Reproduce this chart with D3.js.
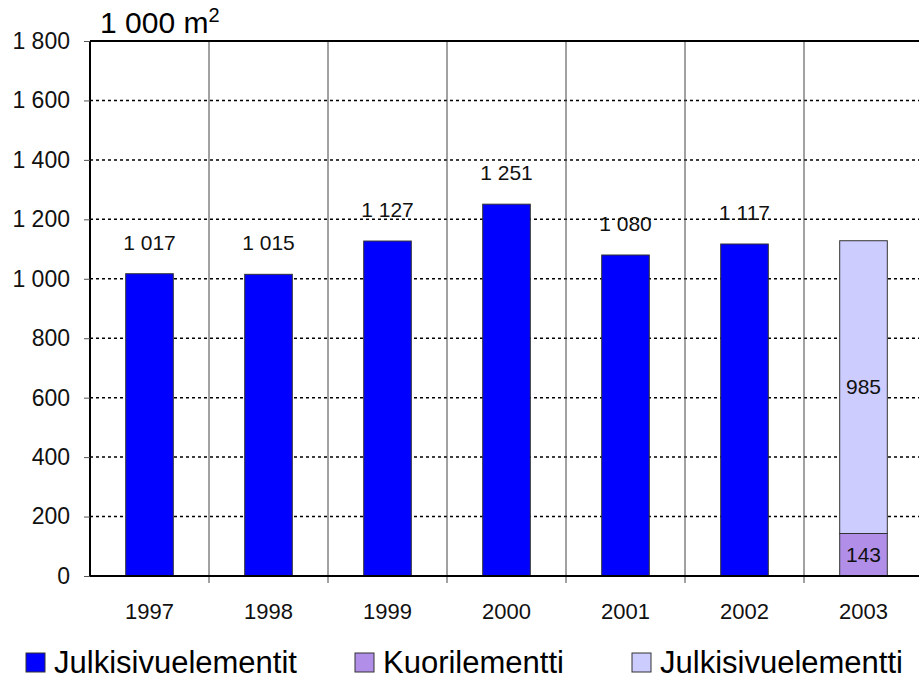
<!DOCTYPE html>
<html>
<head>
<meta charset="utf-8">
<script src="https://cdn.jsdelivr.net/npm/d3@7"></script>
<style>
  body { margin: 0; background: #fff; }
  svg { font-family: "Liberation Sans", Arial, sans-serif; }
</style>
</head>
<body>
<svg class="chart"></svg>
<script>
// chart dimensions
var width = 919;
var height = 680;
var margin = {top: 41, right: -4, bottom: 104, left: 90};
var w = width - margin.left - margin.right;
var h = height - margin.top - margin.bottom;

// data
var years = ["1997", "1998", "1999", "2000", "2001", "2002", "2003"];
var julkisivuelementit = [1017, 1015, 1127, 1251, 1080, 1117, 0];
var kuorielementti = [0, 0, 0, 0, 0, 0, 143];
var julkisivuelementti = [0, 0, 0, 0, 0, 0, 985];
var yTicks = [0, 200, 400, 600, 800, 1000, 1200, 1400, 1600, 1800];
var seriesNames = ["Julkisivuelementit", "Kuorilementti", "Julkisivuelementti"];
var seriesColors = ["#0000ff", "#b18fe9", "#ccccff"];

var fmt = function(v) { return d3.format(",")(v).replace(/,/g, " "); };

var svg = d3.select(".chart")
    .attr("width", width)
    .attr("height", height);

var chart = svg.append("g")
    .attr("transform", "translate(" + margin.left + "," + margin.top + ")");

var x = d3.scaleBand()
    .domain(years)
    .range([0, w])
    .padding(0);

var y = d3.scaleLinear()
    .domain([0, 1800])
    .range([h, 0]);

var barW = x.bandwidth() * 0.4;

// horizontal dotted grid
chart.selectAll(".hgrid")
    .data(yTicks.filter(function(t) { return t > 0 && t < 1800; }))
    .enter().append("line")
    .attr("x1", 0).attr("x2", w)
    .attr("y1", function(d) { return y(d); })
    .attr("y2", function(d) { return y(d); })
    .style("stroke", "#000")
    .style("stroke-width", 1.5)
    .style("stroke-dasharray", "3,3");

// vertical grid lines between categories
chart.selectAll(".vgrid")
    .data(years.slice(1))
    .enter().append("line")
    .attr("x1", function(d) { return x(d); })
    .attr("x2", function(d) { return x(d); })
    .attr("y1", 0).attr("y2", h + 7)
    .style("stroke", "#444")
    .style("stroke-width", 1);

// top border
chart.append("line")
    .attr("x1", 0).attr("x2", w)
    .attr("y1", 0).attr("y2", 0)
    .style("stroke", "#000")
    .style("stroke-width", 2);

// stacked series
var rows = years.map(function(yr, i) {
    return {year: yr, a: julkisivuelementit[i], b: kuorielementti[i], c: julkisivuelementti[i]};
});
var stack = d3.stack().keys(["a", "b", "c"]);
var layers = stack(rows);

layers.forEach(function(layer, li) {
    chart.selectAll(".bar" + li)
        .data(layer.filter(function(d) { return d[1] > d[0]; }))
        .enter().append("rect")
        .attr("x", function(d) { return x(d.data.year) + (x.bandwidth() - barW) / 2; })
        .attr("y", function(d) { return y(d[1]); })
        .attr("width", barW)
        .attr("height", function(d) { return y(d[0]) - y(d[1]); })
        .style("fill", seriesColors[li])
        .style("stroke", "#333")
        .style("stroke-width", 1);
});

// labels above the single bars
chart.selectAll(".toplabel")
    .data(rows.filter(function(d) { return d.a > 0; }))
    .enter().append("text")
    .attr("x", function(d) { return x(d.year) + x.bandwidth() / 2; })
    .attr("y", function(d) { return y(d.a) - 24; })
    .attr("text-anchor", "middle")
    .style("font-size", "21px")
    .style("fill", "#111")
    .text(function(d) { return fmt(d.a); });

// labels inside the stacked segments
layers.slice(1).forEach(function(layer) {
    chart.selectAll(null)
        .data(layer.filter(function(d) { return d[1] > d[0]; }))
        .enter().append("text")
        .attr("x", function(d) { return x(d.data.year) + x.bandwidth() / 2; })
        .attr("y", function(d) { return y((d[0] + d[1]) / 2); })
        .attr("dy", "0.35em")
        .attr("text-anchor", "middle")
        .style("font-size", "21px")
        .style("fill", "#111")
        .text(function(d) { return fmt(d[1] - d[0]); });
});

// y axis
var yAxis = d3.axisLeft(y)
    .tickValues(yTicks)
    .tickSize(6)
    .tickPadding(14)
    .tickFormat(fmt);

var gy = chart.append("g").call(yAxis);
gy.attr("font-size", null).attr("font-family", null);
gy.select(".domain").style("stroke", "#000").style("stroke-width", 2).attr("d", "M0," + h + "V0");
gy.selectAll(".tick line").style("stroke", "#555");
gy.selectAll(".tick text")
    .style("font-size", "23px")
    .style("fill", "#111");

// x axis baseline
chart.append("line")
    .attr("x1", 0).attr("x2", w)
    .attr("y1", h).attr("y2", h)
    .style("stroke", "#000")
    .style("stroke-width", 2);

// category labels
chart.selectAll(".xlabel")
    .data(years)
    .enter().append("text")
    .attr("x", function(d) { return x(d) + x.bandwidth() / 2; })
    .attr("y", h + 43)
    .attr("text-anchor", "middle")
    .style("font-size", "22px")
    .style("fill", "#111")
    .text(function(d) { return d; });

// unit title
var title = svg.append("text")
    .attr("x", 100)
    .attr("y", 33)
    .style("font-size", "30px")
    .style("fill", "#000");
title.append("tspan").text("1 000 m");
title.append("tspan").attr("dy", -11).style("font-size", "20px").text("2");

// legend
var legendX = [26, 355, 632];
var legend = svg.selectAll(".legend")
    .data(seriesNames)
    .enter().append("g")
    .attr("transform", function(d, i) { return "translate(" + legendX[i] + ",653)"; });

legend.append("rect")
    .attr("width", 19).attr("height", 19)
    .style("fill", function(d, i) { return seriesColors[i]; })
    .style("stroke", "#333")
    .style("stroke-width", 1);

legend.append("text")
    .attr("x", 28)
    .attr("y", 20)
    .style("font-size", "31px")
    .style("fill", "#000")
    .text(function(d) { return d; });
</script>
</body>
</html>
